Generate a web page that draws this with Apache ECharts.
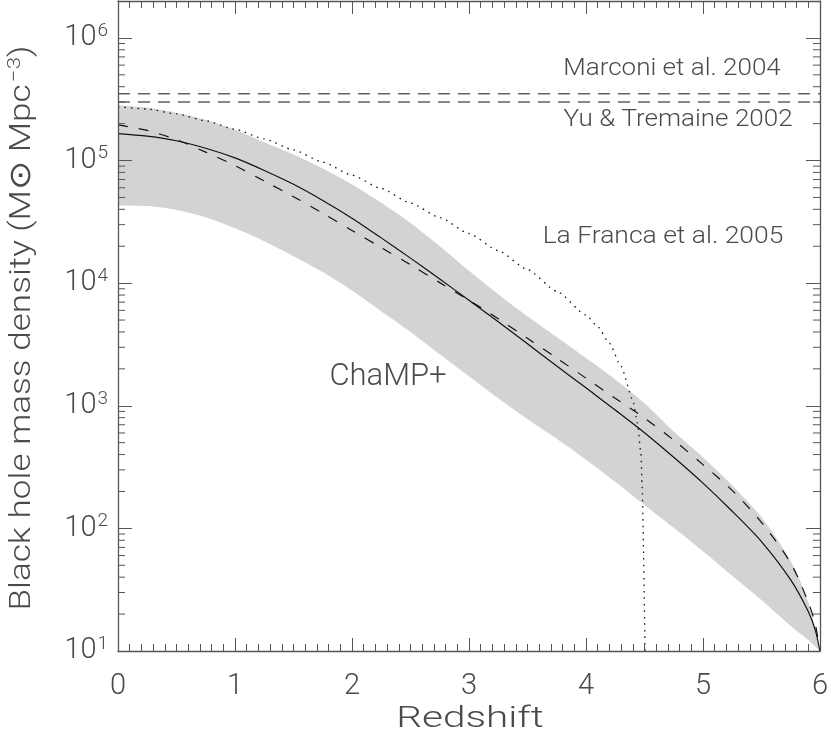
<!DOCTYPE html>
<html>
<head>
<meta charset="utf-8">
<script src="https://cdn.jsdelivr.net/npm/echarts@6/dist/echarts.min.js"></script>
<style>
  html, body { margin: 0; padding: 0; background: #fff; }
  #chart { width: 831px; height: 743px; }
</style>
</head>
<body>
<div id="chart"></div>
<script>
// ChaMP+ band (grey area)
const zBand = [0, 0.25, 0.5, 0.75, 1, 1.25, 1.5, 1.75, 2, 2.25, 2.5, 2.75, 3, 3.25, 3.5, 3.75, 4, 4.25, 4.5, 4.75, 5, 5.25, 5.5, 5.75, 5.9, 6];
const bandUpper = [2.82e5, 2.69e5, 2.45e5, 2.14e5, 1.78e5, 1.41e5, 1.12e5, 8.6e4, 6.38e4, 4.52e4, 3.09e4, 2.0e4, 1.26e4, 8.13e3, 5.37e3, 3.63e3, 2.45e3, 1640, 1050, 617, 380, 224, 123, 54, 25, 10];
const bandLower = [4.3e4, 4.25e4, 3.95e4, 3.45e4, 2.8e4, 2.2e4, 1.66e4, 1.23e4, 8.7e3, 5.9e3, 4.0e3, 2.63e3, 1740, 1150, 776, 537, 363, 240, 155, 101, 65, 41, 26, 16, 12.3, 10];

// model curves
const zCurve = [0, 0.25, 0.5, 0.75, 1, 1.25, 1.5, 1.75, 2, 2.25, 2.5, 2.75, 3, 3.25, 3.5, 3.75, 4, 4.25, 4.5, 4.75, 5, 5.25, 5.5, 5.75, 5.9, 5.96, 6];
const solidCurve = [1.66e5, 1.58e5, 1.45e5, 1.26e5, 1.05e5, 8.3e4, 6.4e4, 4.73e4, 3.39e4, 2.34e4, 1.6e4, 1.08e4, 7.25e3, 4.84e3, 3.2e3, 2.11e3, 1400, 923, 603, 380, 234, 138, 78, 38, 21, 14.8, 10];
const dashedCurve = [1.95e5, 1.76e5, 1.48e5, 1.17e5, 9.1e4, 6.8e4, 5.07e4, 3.72e4, 2.69e4, 1.95e4, 1.41e4, 1.01e4, 7.25e3, 5.13e3, 3.55e3, 2.45e3, 1680, 1150, 794, 525, 331, 204, 112, 52, 25, 16.5, 10];

// La Franca et al. 2005 (dotted)
const zLaFranca = [0, 0.25, 0.5, 0.75, 1, 1.25, 1.5, 1.75, 2, 2.25, 2.5, 2.75, 3, 3.25, 3.5, 3.75, 4, 4.1, 4.2, 4.3, 4.4, 4.44, 4.47, 4.48, 4.505];
const laFranca = [2.75e5, 2.63e5, 2.4e5, 2.11e5, 1.8e5, 1.5e5, 1.22e5, 9.7e4, 7.6e4, 5.9e4, 4.5e4, 3.43e4, 2.54e4, 1.84e4, 1.29e4, 8.6e3, 5.5e3, 4.42e3, 3.24e3, 2.09e3, 1120, 724, 407, 224, 10];

// local estimates (horizontal dashed lines)
const marconi2004 = 3.5e5;
const yuTremaine2002 = 3.0e5;

const yMin = 10, yMax = 2e6;
const xMin = 0, xMax = 6;

const fontFamily = 'Roboto, "DejaVu Sans", sans-serif';
const axisColor = '#555';
const textColor = '#4a4a4a';
const lineColor = '#111';
const bandColor = '#d3d3d3';

// log minor ticks 2..9 x 10^n
const minorTicks = [];
for (let d = 1; d <= 6; d++) {
  for (let k = 2; k <= 9; k++) {
    const v = k * Math.pow(10, d);
    if (v < yMax) minorTicks.push(v);
  }
}

const pairs = (xs, ys) => xs.map((x, i) => [x, ys[i]]);

const chart = echarts.init(document.getElementById('chart'));

const xAxisBase = {
  type: 'value',
  min: xMin,
  max: xMax,
  interval: 1,
  z: 10,
  axisLine: { show: true, onZero: false, lineStyle: { color: axisColor, width: 1.3 } },
  axisTick: { show: true, inside: true, length: 13, lineStyle: { color: axisColor } },
  minorTick: { show: true, splitNumber: 10, length: 7, lineStyle: { color: axisColor } },
  splitLine: { show: false },
  minorSplitLine: { show: false }
};

const yAxisBase = {
  type: 'log',
  logBase: 10,
  min: yMin,
  max: yMax,
  z: 10,
  axisLine: { show: true, onZero: false, lineStyle: { color: axisColor, width: 1.3 } },
  axisTick: { show: true, inside: true, length: 14, lineStyle: { color: axisColor } },
  splitLine: { show: false }
};

const textBase = { fontFamily, fontWeight: 300, fill: textColor, align: 'center', verticalAlign: 'middle' };

const option = {
  animation: false,
  backgroundColor: '#fff',
  grid: { left: 118, right: 7, top: 1, bottom: 92, containLabel: false },
  xAxis: [
    Object.assign({}, xAxisBase, {
      position: 'bottom',
      axisLabel: { margin: 21, fontFamily, fontSize: 29, color: textColor, fontWeight: 300 }
    }),
    Object.assign({}, xAxisBase, { position: 'top', axisLabel: { show: false } })
  ],
  yAxis: [
    Object.assign({}, yAxisBase, {
      position: 'left',
      axisLabel: {
        margin: 10,
        formatter: function (v) {
          const e = Math.round(Math.log10(v));
          if (Math.abs(Math.pow(10, e) - v) / v > 1e-6) return '';
          return '{b|10}{s|' + e + '}';
        },
        rich: {
          b: { fontFamily, fontSize: 29, color: textColor, fontWeight: 300 },
          s: { fontFamily, fontSize: 19, color: textColor, fontWeight: 300, verticalAlign: 'top', padding: [0, 0, 14, 1] }
        }
      }
    }),
    Object.assign({}, yAxisBase, { position: 'right', axisLabel: { show: false } })
  ],
  graphic: [
    { type: 'text', x: 470, y: 719, scaleX: 1.35, z: 100,
      style: Object.assign({ text: 'Redshift', fontSize: 30 }, textBase) },
    { type: 'text', x: 22, y: 328, rotation: Math.PI / 2, scaleX: 1.17, z: 100,
      style: Object.assign({
        text: '{a|Black hole mass density (M\u2299 Mpc}{s|\u22123}{a|)}',
        rich: {
          a: { fontFamily, fontSize: 30, fontWeight: 300, fill: textColor },
          s: { fontFamily, fontSize: 19, fontWeight: 300, fill: textColor, verticalAlign: 'top', padding: [0, 0, 14, 2] }
        }
      }, textBase) },
    { type: 'text', x: 672, y: 69.5, scaleX: 1.13, z: 100,
      style: Object.assign({ text: 'Marconi et al. 2004', fontSize: 23 }, textBase) },
    { type: 'text', x: 678, y: 120, scaleX: 1.13, z: 100,
      style: Object.assign({ text: 'Yu & Tremaine 2002', fontSize: 23 }, textBase) },
    { type: 'text', x: 663, y: 237, scaleX: 1.15, z: 100,
      style: Object.assign({ text: 'La Franca et al. 2005', fontSize: 23 }, textBase) },
    { type: 'text', x: 388, y: 377.5, scaleX: 1.0, z: 100,
      style: Object.assign({ text: 'ChaMP+', fontSize: 31 }, textBase) }
  ],
  series: [
    {
      // upper edge of the band, filled down to the axis
      name: 'ChaMP+',
      type: 'line',
      data: pairs(zBand, bandUpper),
      symbol: 'none',
      smooth: 0.3,
      silent: true,
      lineStyle: { width: 0 },
      areaStyle: { color: bandColor, opacity: 1, origin: 'start' },
      z: 1
    },
    {
      // lower edge of the band, cleared below in white
      name: 'ChaMP+ lower',
      type: 'line',
      data: pairs(zBand, bandLower),
      symbol: 'none',
      smooth: 0.3,
      silent: true,
      lineStyle: { width: 0 },
      areaStyle: { color: '#fff', opacity: 1, origin: 'start' },
      z: 2
    },
    {
      name: 'Marconi et al. 2004',
      type: 'line',
      data: [[xMin, marconi2004], [xMax, marconi2004]],
      symbol: 'none',
      lineStyle: { color: lineColor, width: 1, type: [12, 8] },
      z: 3
    },
    {
      name: 'Yu & Tremaine 2002',
      type: 'line',
      data: [[xMin, yuTremaine2002], [xMax, yuTremaine2002]],
      symbol: 'none',
      lineStyle: { color: lineColor, width: 1, type: [12, 8] },
      z: 3
    },
    {
      name: 'La Franca et al. 2005',
      type: 'line',
      data: pairs(zLaFranca, laFranca),
      symbol: 'none',
      smooth: 0.2,
      smoothMonotone: 'x',
      lineStyle: { color: lineColor, width: 1.3, type: [1.5, 5] },
      z: 3
    },
    {
      name: 'solid',
      type: 'line',
      data: pairs(zCurve, solidCurve),
      symbol: 'none',
      smooth: 0.3,
      lineStyle: { color: lineColor, width: 1.2 },
      z: 3
    },
    {
      name: 'dashed',
      type: 'line',
      data: pairs(zCurve, dashedCurve),
      symbol: 'none',
      smooth: 0.3,
      lineStyle: { color: lineColor, width: 1.2, type: [10, 11] },
      z: 3
    },
    {
      name: 'minor ticks',
      type: 'custom',
      silent: true,
      data: minorTicks.map(v => [0, v]),
      renderItem: function (params, api) {
        const p = api.coord([0, api.value(1)]);
        const cs = params.coordSys;
        const style = { stroke: axisColor, lineWidth: 1 };
        return {
          type: 'group',
          children: [
            { type: 'line', shape: { x1: cs.x, y1: p[1], x2: cs.x + 7, y2: p[1] }, style },
            { type: 'line', shape: { x1: cs.x + cs.width - 7, y1: p[1], x2: cs.x + cs.width, y2: p[1] }, style }
          ]
        };
      },
      z: 10
    }
  ]
};

chart.setOption(option);
window.addEventListener('resize', () => chart.resize());
</script>
</body>
</html>
